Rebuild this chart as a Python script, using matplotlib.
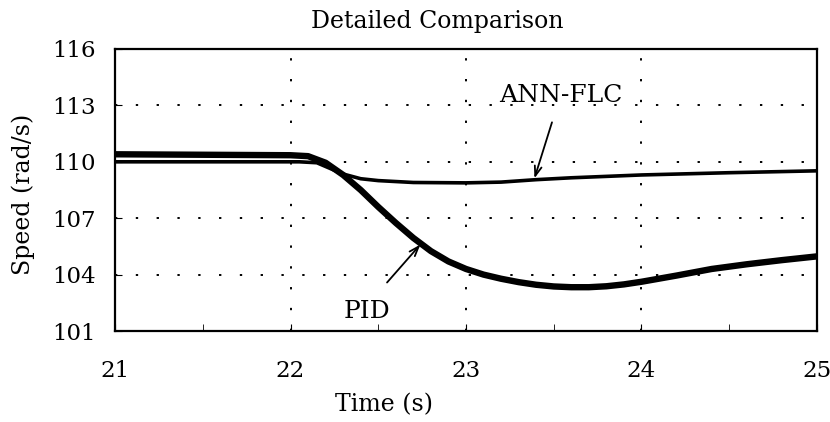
import matplotlib.pyplot as plt

# speed traces
t_ann = [21.0, 22.05, 22.15, 22.2, 22.3, 22.4, 22.5, 22.7, 23.0, 23.2, 23.4, 23.6, 24.0, 24.5, 25.0]
w_ann = [110.0, 110.0, 109.95, 109.75, 109.35, 109.1, 109.0, 108.9, 108.88, 108.92, 109.05,
         109.15, 109.3, 109.42, 109.52]

t_pid = [21.0, 22.0, 22.1, 22.2, 22.3, 22.4, 22.5, 22.6, 22.7, 22.8, 22.9, 23.0, 23.1, 23.2,
         23.3, 23.4, 23.5, 23.6, 23.7, 23.8, 23.9, 24.0, 24.2, 24.4, 24.6, 24.8, 25.0]
w_pid = [110.4, 110.35, 110.3, 109.95, 109.3, 108.5, 107.6, 106.75, 105.95, 105.25, 104.7,
         104.3, 104.0, 103.78, 103.6, 103.46, 103.37, 103.33, 103.33, 103.38, 103.48, 103.62,
         103.95, 104.3, 104.55, 104.77, 104.97]

x_ticks = [21, 22, 23, 24, 25]
y_ticks = [101, 104, 107, 110, 113, 116]

plt.rcParams['font.family'] = ['DejaVu Serif']

fig = plt.figure(figsize=(8.3, 4.22), dpi=100)
ax = fig.add_axes([0.1386, 0.2156, 0.8457, 0.6683])

ax.plot(t_pid, w_pid, color='black', lw=4.6, solid_capstyle='butt')
ax.plot(t_ann, w_ann, color='black', lw=2.6, solid_capstyle='butt')

ax.set_xlim(21, 25)
ax.set_ylim(101, 116)
ax.set_xticks(x_ticks)
ax.set_yticks(y_ticks)
ax.set_xticks([21.5, 22.5, 23.5, 24.5], minor=True)
ax.tick_params(direction='in', length=5, labelsize=16.5)
ax.tick_params(axis='x', pad=21)
ax.tick_params(axis='y', pad=14)
ax.tick_params(which='minor', direction='in', length=5)
ax.grid(True, which='major', color='black', linestyle=(0, (1.2, 9.5)), lw=1.4)

for s in ax.spines.values():
    s.set_linewidth(1.6)

fig.text(0.5265, 0.948, 'Detailed Comparison', fontsize=17, ha='center', va='center')
fig.text(0.4627, 0.040, 'Time (s)', fontsize=17, ha='center', va='center')
fig.text(0.028, 0.540, 'Speed (rad/s)', fontsize=17, ha='center', va='center',
         rotation=90)

arrow = dict(arrowstyle='->,head_length=0.7,head_width=0.25', color='black', lw=1.3,
             shrinkA=0, shrinkB=0)
ax.text(23.54, 113.16, 'ANN-FLC', fontsize=18, ha='center', va='baseline')
ax.annotate('', xy=(23.39, 109.12), xytext=(23.49, 112.1), arrowprops=arrow)
ax.text(22.436, 101.67, 'PID', fontsize=18, ha='center', va='baseline')
ax.annotate('', xy=(22.74, 105.6), xytext=(22.55, 103.58), arrowprops=arrow)

fig.savefig('out.png', dpi=100)
